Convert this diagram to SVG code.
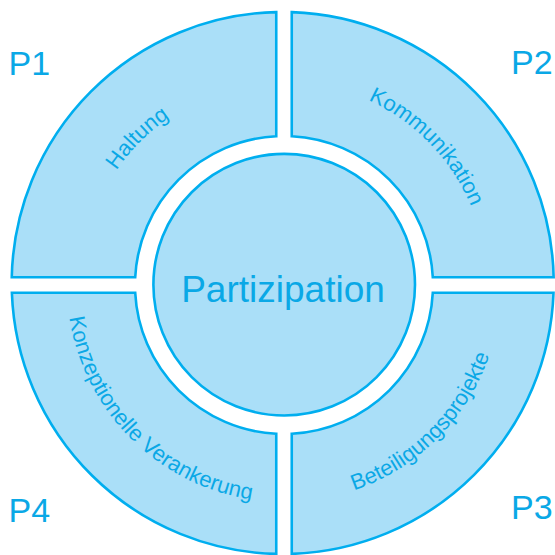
<svg xmlns="http://www.w3.org/2000/svg" xmlns:xlink="http://www.w3.org/1999/xlink" width="555" height="555" viewBox="0 0 555 555">
  <style>
    .seg { fill: #aadff8; stroke: #00aeef; stroke-width: 2.6; stroke-linejoin: miter; }
    .lbl { fill: #0aa8e6; font-family: "Liberation Sans", Arial, sans-serif; }
    .arc { font-size: 22px; }
    .p { font-size: 34px; }
  </style>
  <defs>
    <path id="arc1" d="M 81 285 A 203 203 0 0 1 284 82" fill="none"/>
    <path id="arc2" d="M 284 82 A 203 203 0 0 1 487 285" fill="none"/>
    <path id="arc3" d="M 284 502 A 217 217 0 0 0 501 285" fill="none"/>
    <path id="arc4" d="M 67 285 A 217 217 0 0 0 284 502" fill="none"/>
  </defs>
  <rect width="555" height="555" fill="#ffffff"/>
  <g id="connectors"/>
  <g id="p1">
    <path class="seg" d="M 276.25 12.077 A 271 271 0 0 0 11.76 277.25 L 135.202 277.25 A 149 149 0 0 1 276.25 136.202 Z"/>
    <text class="lbl arc"><textPath xlink:href="#arc1" href="#arc1" startOffset="50%" text-anchor="middle">Haltung</textPath></text>
    <text class="lbl p" x="8.5" y="75">P1</text>
  </g>
  <g id="p2">
    <path class="seg" d="M 291.75 12.15 A 271 271 0 0 1 553.64 277.25 L 432.798 277.25 A 149 149 0 0 0 291.75 136.202 Z"/>
    <text class="lbl arc"><textPath xlink:href="#arc2" href="#arc2" startOffset="51%" text-anchor="middle">Kommunikation</textPath></text>
    <text class="lbl p" x="511" y="74">P2</text>
  </g>
  <g id="p3">
    <path class="seg" d="M 553.52 292.75 A 271 271 0 0 1 291.75 553.85 L 291.75 433.798 A 149 149 0 0 0 432.798 292.75 Z"/>
    <text class="lbl arc"><textPath xlink:href="#arc3" href="#arc3" startOffset="50%" text-anchor="middle">Beteiligungsprojekte</textPath></text>
    <text class="lbl p" x="511" y="519">P3</text>
  </g>
  <g id="p4">
    <path class="seg" d="M 276.25 553.923 A 271 271 0 0 1 11.88 292.75 L 135.202 292.75 A 149 149 0 0 0 276.25 433.798 Z"/>
    <text class="lbl arc"><textPath xlink:href="#arc4" href="#arc4" startOffset="50%" text-anchor="middle">Konzeptionelle Verankerung</textPath></text>
    <text class="lbl p" x="8.5" y="522">P4</text>
  </g>
  <g id="center">
    <circle class="seg" cx="284.2" cy="284.7" r="130.8"/>
    <text class="lbl" x="283" y="301.5" font-size="37" text-anchor="middle">Partizipation</text>
  </g>
</svg>
